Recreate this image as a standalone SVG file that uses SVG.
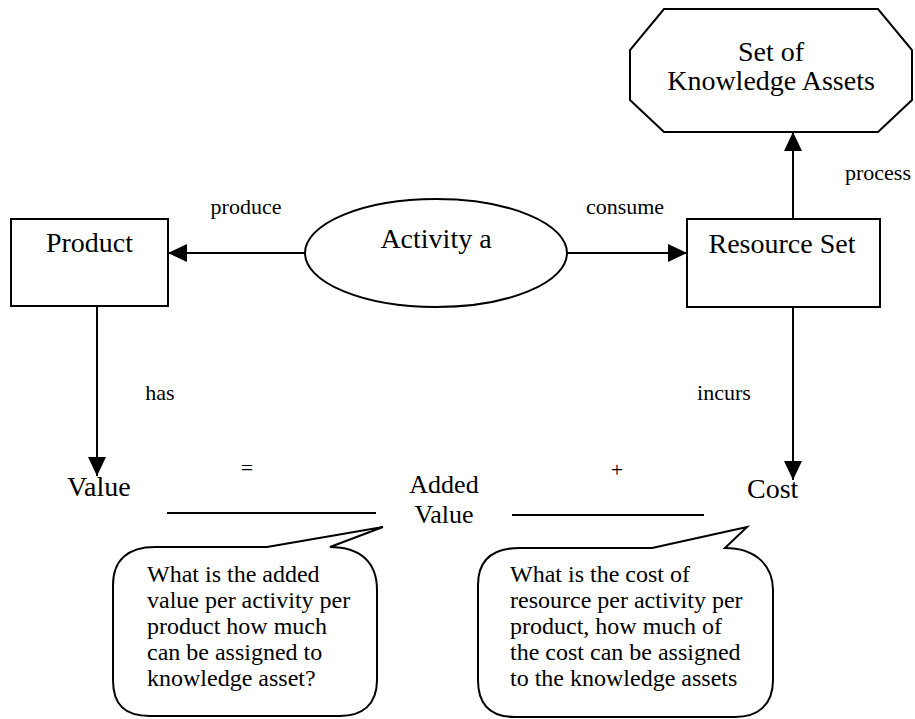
<svg xmlns="http://www.w3.org/2000/svg" width="915" height="719" viewBox="0 0 915 719">
<defs>
<style>
text{font-family:"Liberation Serif","Times New Roman",serif;fill:#000}
.node{font-size:28px}
.node2{font-size:26px}
.lbl{font-size:22px}
.call{font-size:24px}
.shape{fill:#fff;stroke:#000;stroke-width:2}
.conn{stroke:#000;stroke-width:2;fill:none}
</style>
<marker id="arr" markerUnits="userSpaceOnUse" markerWidth="20" markerHeight="20" viewBox="0 0 20 20" refX="19" refY="10" orient="auto">
<path d="M0,1 L19,10 L0,19 Z" fill="#000"/>
</marker>
</defs>
<rect width="915" height="719" fill="#fff"/>

<g id="assets">
<polygon class="shape" points="664,9 878,9 912,50 912,100 878,132 664,132 630,100 630,50"/>
<text class="node" x="771" y="61" text-anchor="middle">Set of</text>
<text class="node" x="771" y="90" text-anchor="middle">Knowledge Assets</text>
</g>

<g id="product">
<rect class="shape" x="11" y="219" width="157" height="87"/>
<text class="node" x="89.5" y="252" text-anchor="middle">Product</text>
</g>

<g id="activity">
<ellipse class="shape" cx="436" cy="253" rx="131" ry="54"/>
<text class="node" x="436" y="248" text-anchor="middle">Activity a</text>
</g>

<g id="resource">
<rect class="shape" x="687" y="219" width="193" height="88"/>
<text class="node" x="782" y="253" text-anchor="middle">Resource Set</text>
</g>

<g id="value">
<text class="node" x="67" y="496">Value</text>
</g>
<g id="added-value">
<text class="node2" x="444" y="493" text-anchor="middle">Added</text>
<text class="node2" x="444" y="523" text-anchor="middle">Value</text>
</g>
<g id="cost">
<text class="node" x="747" y="498">Cost</text>
</g>

<g id="equation">
<text class="lbl" x="247" y="475" text-anchor="middle">=</text>
<text class="lbl" x="617" y="477" text-anchor="middle">+</text>
<line class="conn" x1="167" y1="513" x2="376" y2="513"/>
<line class="conn" x1="512" y1="515" x2="704" y2="515"/>
</g>

<g id="connectors">
<line class="conn" x1="305" y1="253" x2="168" y2="253" marker-end="url(#arr)"/>
<line class="conn" x1="567" y1="253" x2="687" y2="253" marker-end="url(#arr)"/>
<line class="conn" x1="793" y1="219" x2="793" y2="132" marker-end="url(#arr)"/>
<line class="conn" x1="97" y1="306" x2="97" y2="476" marker-end="url(#arr)"/>
<line class="conn" x1="793" y1="307" x2="793" y2="480" marker-end="url(#arr)"/>
<text class="lbl" x="246" y="214" text-anchor="middle">produce</text>
<text class="lbl" x="625" y="214" text-anchor="middle">consume</text>
<text class="lbl" x="878" y="180" text-anchor="middle">process</text>
<text class="lbl" x="160" y="400" text-anchor="middle">has</text>
<text class="lbl" x="724" y="400" text-anchor="middle">incurs</text>
</g>

<g id="callout-left">
<path class="shape" d="M267,547 L383,527 L330,547 C360,547 377,562 377,590 L377,680 C377,705 362,716 340,716 L150,716 C125,716 113,705 113,680 L113,585 C113,560 128,547 155,547 Z"/>
<text class="call" x="147" y="582">What is the added</text>
<text class="call" x="147" y="608">value per activity per</text>
<text class="call" x="147" y="634">product how much</text>
<text class="call" x="147" y="660">can be assigned to</text>
<text class="call" x="147" y="686">knowledge asset?</text>
</g>

<g id="callout-right">
<path class="shape" d="M652,548 L747,527 L725,548 C755,548 773,565 773,590 L773,680 C773,705 758,717 735,717 L515,717 C490,717 478,705 478,680 L478,585 C478,560 492,548 520,548 Z"/>
<text class="call" x="510" y="582">What is the cost of</text>
<text class="call" x="510" y="608">resource per activity per</text>
<text class="call" x="510" y="634">product, how much of</text>
<text class="call" x="510" y="660">the cost can be assigned</text>
<text class="call" x="510" y="686">to the knowledge assets</text>
</g>
</svg>
